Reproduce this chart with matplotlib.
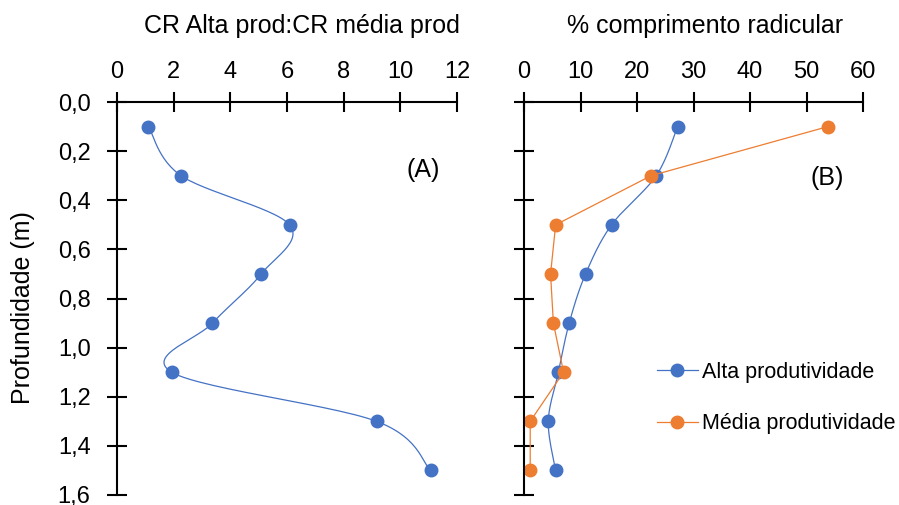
import numpy as np
import matplotlib
matplotlib.use("Agg")
import matplotlib.pyplot as plt
from matplotlib.lines import Line2D
from matplotlib import font_manager as fm

fname = None
for f in fm.findSystemFonts():
    if f.endswith("LiberationSans-Regular.ttf"):
        fname = f
        break
if fname:
    fm.fontManager.addfont(fname)
    fam = fm.FontProperties(fname=fname).get_name()
else:
    fam = 'DejaVu Sans'
plt.rcParams['font.family'] = [fam, 'DejaVu Sans']

depth = [0.1, 0.3, 0.5, 0.7, 0.9, 1.1, 1.3, 1.5]
ratio_cr = [1.11, 2.26, 6.09, 5.09, 3.37, 1.93, 9.16, 11.07]
alta = [27.2, 23.4, 15.5, 10.9, 8.0, 6.1, 4.3, 5.6]
media = [53.8, 22.5, 5.6, 4.7, 5.2, 7.0, 1.1, 1.1]
yticks = [0.0, 0.2, 0.4, 0.6, 0.8, 1.0, 1.2, 1.4, 1.6]
ytick_labels = ["0,0", "0,2", "0,4", "0,6", "0,8", "1,0", "1,2", "1,4", "1,6"]

BLUE = "#4472C4"
ORANGE = "#ED7D31"
FS_TICK = 17
FS_TITLE = 18
FS_LEG = 15.5

W, H = 899, 505
fig = plt.figure(figsize=(W / 100, H / 100), dpi=100)
axA = fig.add_axes([117 / W, 1 - 495 / H, (457 - 117) / W, (495 - 102) / H])
axB = fig.add_axes([524 / W, 1 - 495 / H, (863 - 524) / W, (495 - 102) / H])


def smooth(ax, xs, ys, n=30):
    """Excel-like smoothed line (Catmull-Rom in display space)."""
    pts = ax.transData.transform(np.column_stack([xs, ys]))
    P = np.vstack([pts[0], pts, pts[-1]])
    out = []
    for i in range(1, len(P) - 2):
        p0, p1, p2, p3 = P[i - 1], P[i], P[i + 1], P[i + 2]
        c1 = p1 + (p2 - p0) / 6
        c2 = p2 - (p3 - p1) / 6
        t = np.linspace(0, 1, n)[:, None]
        seg = ((1 - t) ** 3) * p1 + 3 * ((1 - t) ** 2) * t * c1 + 3 * (1 - t) * t ** 2 * c2 + t ** 3 * p2
        out.append(seg if i == 1 else seg[1:])
    out = np.vstack(out)
    return ax.transData.inverted().transform(out)


def style(ax, xmax, xstep):
    ax.set_xlim(0, xmax)
    ax.set_ylim(1.6, 0.0)
    ax.set_xticks(np.arange(0, xmax + 0.1, xstep))
    ax.set_yticks(yticks)
    ax.xaxis.tick_top()
    ax.spines['right'].set_visible(False)
    ax.spines['bottom'].set_visible(False)
    for s in ('left', 'top'):
        ax.spines[s].set_linewidth(1.5)
    ax.tick_params(axis='both', direction='inout', length=14, width=1.5,
                   labelsize=FS_TICK)
    ax.tick_params(axis='x', pad=7)
    ax.tick_params(axis='y', pad=12)
    ax.patch.set_visible(False)


style(axA, 12, 2)
axA.set_yticklabels(ytick_labels)
fig.text(23 / W, 1 - 308 / H, "Profundidade (m)", fontsize=FS_TITLE, rotation=90,
         ha='center', va='center')
fig.text(302 / W, 1 - 32.5 / H, "CR Alta prod:CR média prod", fontsize=FS_TITLE,
         ha='center', va='baseline')
fig.canvas.draw()
sA = smooth(axA, ratio_cr, depth)
axA.plot(sA[:, 0], sA[:, 1], color=BLUE, lw=0.9, clip_on=False)
axA.plot(ratio_cr, depth, 'o', color=BLUE, ms=9, clip_on=False)
fig.text(423 / W, 1 - 170 / H, "(A)", fontsize=FS_TITLE, ha='center', va='center')

style(axB, 60, 10)
axB.set_yticklabels([])
fig.text(705 / W, 1 - 33 / H, "% comprimento radicular", fontsize=FS_TITLE,
         ha='center', va='baseline')
fig.canvas.draw()
sB = smooth(axB, alta, depth)
axB.plot(sB[:, 0], sB[:, 1], color=BLUE, lw=0.9, clip_on=False)
axB.plot(alta, depth, 'o', color=BLUE, ms=9, clip_on=False)
axB.plot(media, depth, '-o', color=ORANGE, lw=0.9, ms=9, clip_on=False)
fig.text(827 / W, 1 - 178 / H, "(B)", fontsize=FS_TITLE, ha='center', va='center')

handles = [Line2D([], [], color=BLUE, lw=0.9, marker='o', ms=9),
           Line2D([], [], color=ORANGE, lw=0.9, marker='o', ms=9)]
axB.legend(handles, ["Alta produtividade", "Média produtividade"],
           loc='upper left', bbox_to_anchor=((657 - 524) / (863 - 524), 1 - (362 - 102) / (495 - 102)),
           frameon=False, fontsize=FS_LEG, handlelength=1.9, labelspacing=1.4,
           handletextpad=0.2, borderaxespad=0, borderpad=0)

fig.savefig("out.png", dpi=100)
